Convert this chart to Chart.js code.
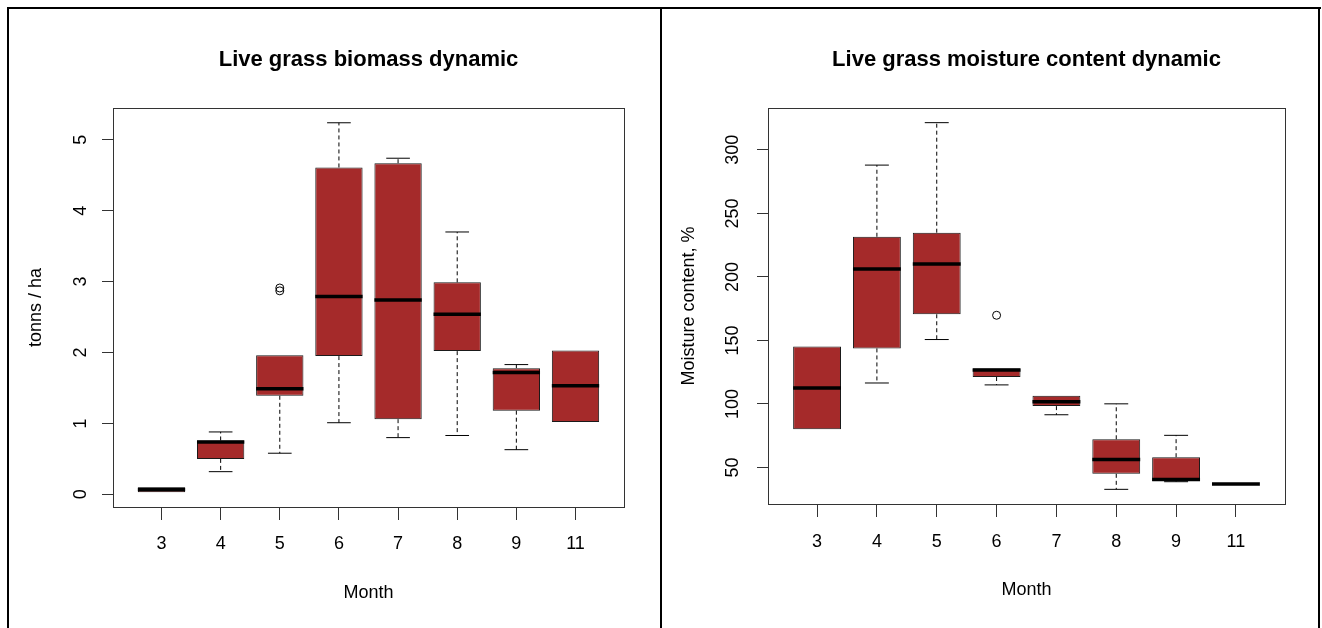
<!DOCTYPE html>
<html>
<head>
<meta charset="utf-8">
<title>Live grass dynamics</title>
<script src="https://cdn.jsdelivr.net/npm/chart.js@4.4.1/dist/chart.umd.min.js"></script>
<style>
  html, body { margin: 0; padding: 0; background: #fff; }
  #page { position: relative; width: 1322px; height: 628px; overflow: hidden; background: #fff; }
  canvas { position: absolute; top: 0; }
  #leftChart { left: 0; }
  #rightChart { left: 661px; }
  .rule { position: absolute; background: #000; z-index: 2; }
</style>
</head>
<body>
<div id="page">
  <canvas id="leftChart" width="660" height="628"></canvas>
  <canvas id="rightChart" width="661" height="628"></canvas>
  <div class="rule" style="left:7px;top:7px;width:1314px;height:2px"></div>
  <div class="rule" style="left:7px;top:7px;width:2px;height:621px"></div>
  <div class="rule" style="left:660px;top:7px;width:2px;height:621px"></div>
  <div class="rule" style="left:1318px;top:7px;width:2px;height:621px"></div>
</div>
<script>
// months on the x axis
const months = ['3', '4', '5', '6', '7', '8', '9', '11'];

// live grass biomass, tonns / ha
const bioLow  = [0.03, 0.32, 0.58, 1.01, 0.80, 0.83, 0.63, 1.02];
const bioQ1   = [0.03, 0.50, 1.39, 1.95, 1.06, 2.02, 1.18, 1.02];
const bioMed  = [0.07, 0.74, 1.49, 2.79, 2.74, 2.54, 1.72, 1.53];
const bioQ3   = [0.10, 0.76, 1.96, 4.61, 4.67, 2.99, 1.78, 2.03];
const bioHigh = [0.10, 0.88, 1.96, 5.24, 4.74, 3.70, 1.83, 2.03];
const bioOut  = [[], [], [2.87, 2.91], [], [], [], [], []];
const bioTicks = [0, 1, 2, 3, 4, 5];

// live grass moisture content, %
const moLow  = [80.0, 116.5, 150.7, 115.0, 91.5, 32.8, 38.8, 37.0];
const moQ1   = [80.0, 143.7, 170.6, 121.2, 98.3, 45.0, 39.3, 37.0];
const moMed  = [112.6, 206.3, 210.2, 126.7, 101.7, 56.3, 40.6, 37.0];
const moQ3   = [145.2, 231.6, 234.8, 128.0, 106.4, 72.2, 58.1, 37.0];
const moHigh = [145.2, 288.0, 321.4, 128.0, 106.4, 100.1, 75.3, 37.0];
const moOut  = [[], [], [], [169.8], [], [], [], []];
const moTicks = [50, 100, 150, 200, 250, 300];

const FONT = "'Liberation Sans', Arial, sans-serif";
const BOX_FILL = '#A52A2A';

// R style axis range: data range stretched by 4% on each side
function rRange(lo, hi) {
    const pad = (hi - lo) * 0.04;
    return [lo - pad, hi + pad];
}

function boxChart(canvasId, s) {
    const xs = months.map((_, i) => i + 1);
    const boxes = [], whiskers = [], staples = [], medians = [], outliers = [];

    xs.forEach((x, i) => {
        boxes.push({ x, y: [s.q1[i], s.q3[i]] });
        medians.push({ x: x - 0.4, y: s.med[i] }, { x: x + 0.4, y: s.med[i] }, { x, y: null });
        if (s.high[i] > s.q3[i]) {
            whiskers.push({ x, y: s.q3[i] }, { x, y: s.high[i] }, { x, y: null });
            staples.push({ x: x - 0.2, y: s.high[i] }, { x: x + 0.2, y: s.high[i] }, { x, y: null });
        }
        if (s.low[i] < s.q1[i]) {
            whiskers.push({ x, y: s.q1[i] }, { x, y: s.low[i] }, { x, y: null });
            staples.push({ x: x - 0.2, y: s.low[i] }, { x: x + 0.2, y: s.low[i] }, { x, y: null });
        }
        s.out[i].forEach(v => outliers.push({ x, y: v }));
    });

    const allVals = s.low.concat(s.high, ...s.out);
    const [yMin, yMax] = rRange(Math.min(...allVals), Math.max(...allVals));
    const [xMin, xMax] = rRange(0.5, months.length + 0.5);

    const font = { family: FONT, size: 18 };

    return new Chart(document.getElementById(canvasId), {
        type: 'bar',
        data: {
            datasets: [
                {
                    type: 'line', data: outliers, showLine: false, order: 0,
                    pointRadius: 4, pointBorderWidth: 1,
                    pointBorderColor: '#000', pointBackgroundColor: 'rgba(0,0,0,0)'
                },
                {
                    type: 'line', data: medians, order: 1, spanGaps: false,
                    borderColor: '#000', borderWidth: 3.5, borderCapStyle: 'butt', pointRadius: 0
                },
                {
                    type: 'line', data: staples, order: 2, spanGaps: false,
                    borderColor: '#000', borderWidth: 1, pointRadius: 0
                },
                {
                    type: 'line', data: whiskers, order: 3, spanGaps: false,
                    borderColor: '#000', borderWidth: 1, borderDash: [4, 3], pointRadius: 0
                },
                {
                    type: 'bar', data: boxes, order: 4,
                    backgroundColor: BOX_FILL, borderColor: '#1a1a1a', borderWidth: 1,
                    borderSkipped: false, categoryPercentage: 1, barPercentage: 0.8
                }
            ]
        },
        options: {
            responsive: false,
            animation: false,
            events: [],
            layout: { padding: { left: 0, right: s.padRight, top: 0, bottom: 0 } },
            plugins: {
                legend: { display: false },
                tooltip: { enabled: false },
                title: {
                    display: true,
                    text: s.title,
                    fullSize: false,
                    color: '#000',
                    font: { family: FONT, size: 22, weight: 'bold' },
                    padding: { top: 46.6, bottom: 35 }
                }
            },
            scales: {
                x: {
                    type: 'linear', min: xMin, max: xMax, bounds: 'data', offset: false,
                    afterBuildTicks: sc => { sc.ticks = xs.map(v => ({ value: v })); },
                    afterFit: sc => { sc.height = s.xAxisHeight; },
                    grid: { drawOnChartArea: false, drawTicks: true, tickLength: 13, color: '#333', offset: false },
                    border: { display: true, color: '#333', width: 1 },
                    ticks: {
                        callback: v => months[Math.round(v) - 1],
                        font, color: '#000', padding: s.xTickPad,
                        maxRotation: 0, autoSkip: false
                    },
                    title: {
                        display: true, text: 'Month', font, color: '#000',
                        padding: { top: 0, bottom: s.xTitlePad }
                    }
                },
                y: {
                    type: 'linear', min: yMin, max: yMax, bounds: 'data',
                    afterBuildTicks: sc => { sc.ticks = s.ticks.map(v => ({ value: v })); },
                    afterFit: sc => { sc.width = s.yAxisWidth; },
                    grid: { drawOnChartArea: false, drawTicks: true, tickLength: 11, color: '#333' },
                    border: { display: true, color: '#333', width: 1 },
                    ticks: {
                        font, color: '#000', padding: s.yTickPad,
                        minRotation: 90, maxRotation: 90, crossAlign: 'center', autoSkip: false
                    },
                    title: {
                        display: true, text: s.yTitle, font, color: '#000',
                        padding: { top: s.yTitlePad, bottom: 0 }
                    }
                },
                // top and right edges of the plot box
                x2: {
                    type: 'linear', position: 'top', min: 0, max: 1,
                    afterFit: sc => { sc.height = 0; },
                    grid: { drawOnChartArea: false, drawTicks: false },
                    ticks: { display: false },
                    border: { display: true, color: '#333', width: 1 }
                },
                y2: {
                    type: 'linear', position: 'right', min: 0, max: 1,
                    afterFit: sc => { sc.width = 0; },
                    grid: { drawOnChartArea: false, drawTicks: false },
                    ticks: { display: false },
                    border: { display: true, color: '#333', width: 1 }
                }
            }
        }
    });
}

boxChart('leftChart', {
    title: 'Live grass biomass dynamic',
    yTitle: 'tonns / ha',
    low: bioLow, q1: bioQ1, med: bioMed, q3: bioQ3, high: bioHigh, out: bioOut,
    ticks: bioTicks,
    padRight: 36, yAxisWidth: 113, xAxisHeight: 121,
    xTickPad: 13.7, xTitlePad: 24.2, yTickPad: 16, yTitlePad: 25.7
});

boxChart('rightChart', {
    title: 'Live grass moisture content dynamic',
    yTitle: 'Moisture content, %',
    low: moLow, q1: moQ1, med: moMed, q3: moQ3, high: moHigh, out: moOut,
    ticks: moTicks,
    padRight: 37, yAxisWidth: 107, xAxisHeight: 124,
    xTickPad: 14.2, xTitlePad: 27.2, yTickPad: 9.3, yTitlePad: 17
});
</script>
</body>
</html>
